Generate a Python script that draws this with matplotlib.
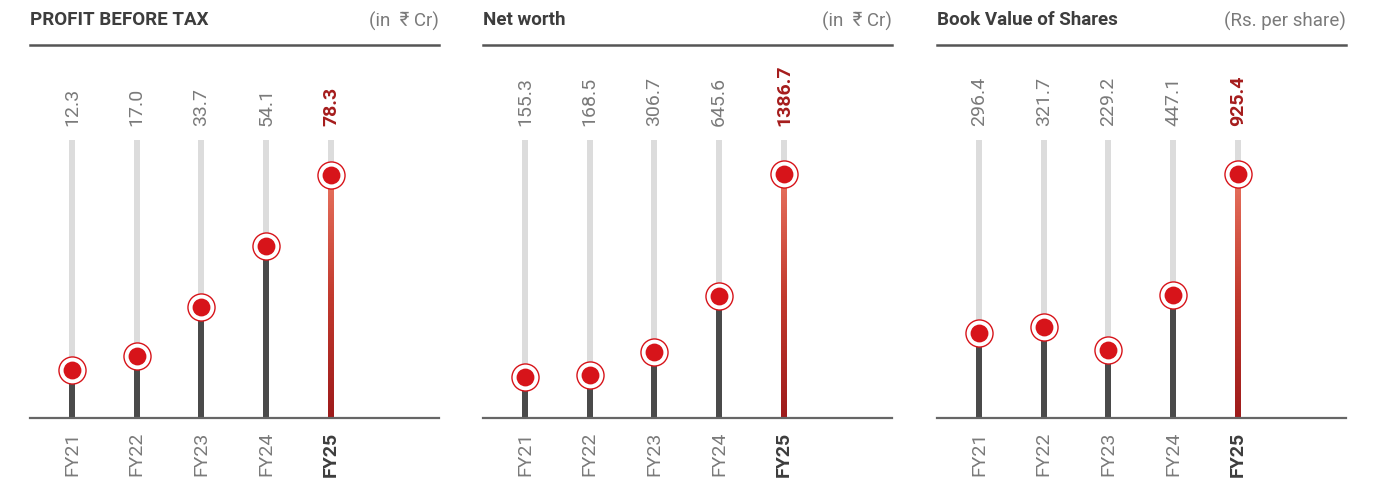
"""Lollipop panels: PBT, net worth, book value per share (FY21-FY25)."""

import numpy as np
import matplotlib.pyplot as plt
from matplotlib.lines import Line2D
from matplotlib.colors import LinearSegmentedColormap

years = ["FY21", "FY22", "FY23", "FY24", "FY25"]

pbt = [12.3, 17.0, 33.7, 54.1, 78.3]
net_worth = [155.3, 168.5, 306.7, 645.6, 1386.7]
book_value = [296.4, 321.7, 229.2, 447.1, 925.4]

titles = ["PROFIT BEFORE TAX", "Net worth", "Book Value of Shares"]
units = ["(in  ₹ Cr)", "(in  ₹ Cr)", "(Rs. per share)"]
series = [pbt, net_worth, book_value]

# designer's scale: pixel height above baseline ~ offset + slope * value
scales = [(12.0, 2.95), (15.0, 0.165), (10.0, 0.253)]
panel_left = [30, 483, 937]
panel_width = 409

W, H = 1379, 486
DPI = 100
BASE_Y, TOP_Y = 418, 140
STEM_LW = 6 * 72 / DPI

RED = "#d7141a"
DARK = "#4a4a4a"
LIGHT = "#dcdcdc"
GREY_TXT = "#7a7a7a"
FONT = ["Roboto", "DejaVu Sans"]

fig = plt.figure(figsize=(W / DPI, H / DPI), dpi=DPI)
fig.patch.set_facecolor("white")

grad = LinearSegmentedColormap.from_list("fy25", ["#9e1b1b", "#c23a2e", "#e8735f"])


def fx(x):
    return x / W


def fy(y):
    return 1 - y / H


for p in range(3):
    left = panel_left[p]
    a, b = scales[p]
    vals = series[p]
    h_px = BASE_Y - TOP_Y
    v0 = -a / b
    v1 = (h_px - a) / b

    ax = fig.add_axes([fx(left), fy(BASE_Y), fx(panel_width), (h_px) / H])
    ax.set_xlim(-0.65, 5.67)
    ax.set_ylim(v0, v1)
    ax.axis("off")

    x = np.arange(len(years))
    ax.vlines(x, v0, v1, color=LIGHT, lw=STEM_LW, zorder=1)
    ax.vlines(x[:-1], v0, vals[:-1], color=DARK, lw=STEM_LW, zorder=2)

    # gradient stem for latest year
    hw = 3.0 / 64.75
    img = np.linspace(0, 1, 200).reshape(-1, 1)
    ax.imshow(img, cmap=grad, origin="lower", aspect="auto",
              extent=[x[-1] - hw, x[-1] + hw, v0, vals[-1]], zorder=2)

    ax.scatter(x, vals, s=380, facecolor="white", edgecolor=RED, lw=1.0, zorder=3)
    ax.scatter(x, vals, s=165, color=RED, lw=0, zorder=4)

    ax.axhline(v0, color="#666666", lw=1.6, zorder=5, clip_on=False)

    for i, v in enumerate(vals):
        last = i == len(vals) - 1
        ax.annotate(f"{v:.1f}", (x[i], v1), xytext=(0, 10),
                    textcoords="offset points", rotation=90, ha="center", va="bottom",
                    fontsize=14, family=FONT,
                    color="#a51c1c" if last else GREY_TXT,
                    fontweight="bold" if last else "normal")
        ax.annotate(years[i], (x[i], v0), xytext=(0, -10),
                    textcoords="offset points", rotation=90, ha="center", va="top",
                    fontsize=14, family=FONT,
                    color="#3d3d3d" if last else GREY_TXT,
                    fontweight="bold" if last else "normal")

    fig.text(fx(left), fy(20), titles[p], fontsize=13.5, fontweight="bold",
             color="#3d3d3d", family=FONT, ha="left", va="center")
    fig.text(fx(left + panel_width), fy(21), units[p], fontsize=13.5,
             color=GREY_TXT, family=FONT, ha="right", va="center")
    fig.add_artist(Line2D([fx(left), fx(left + panel_width)], [fy(45), fy(45)],
                          color="#555555", lw=1.8))

fig.savefig("out.png", dpi=DPI, facecolor="white")
